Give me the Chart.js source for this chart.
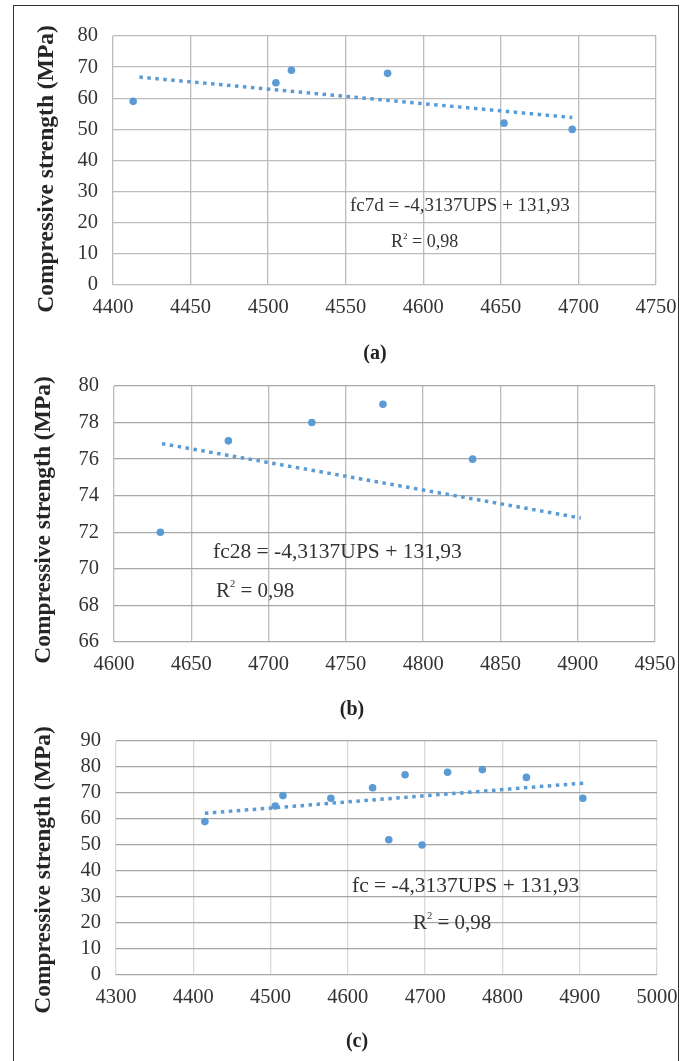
<!DOCTYPE html>
<html>
<head>
<meta charset="utf-8">
<script src="https://cdn.jsdelivr.net/npm/chart.js@4.4.0/dist/chart.umd.min.js"></script>
<style>
  html, body { margin: 0; padding: 0; background: #fff; width: 691px; height: 1061px; overflow: hidden; }
  .frame { position: absolute; left: 13px; top: 5px; width: 666px; height: 1100px; border: 1.5px solid #333; box-sizing: border-box; }
  canvas { position: absolute; left: 0; }
  .txt { position: absolute; font-family: "Liberation Serif", serif; color: #333; white-space: nowrap; line-height: 1; transform: translateY(-50%); }
  .cap { position: absolute; font-family: "Liberation Serif", serif; font-weight: bold; color: #222; font-size: 20px; line-height: 1; transform: translate(-50%, -50%); }
  sup { font-size: 0.5em; vertical-align: 0.9em; line-height: 0; }
</style>
</head>
<body>
<div class="frame"></div>
<canvas id="cA" width="691" height="330" style="top:0px"></canvas>
<canvas id="cB" width="691" height="340" style="top:340px"></canvas>
<canvas id="cC" width="691" height="340" style="top:700px"></canvas>

<div class="txt" style="left:350px; top:204px; font-size:19px;">fc7d = -4,3137UPS + 131,93</div>
<div class="txt" style="left:391px; top:241px; font-size:18px;">R<sup>2</sup> = 0,98</div>
<div class="cap" style="left:375px; top:352px;">(a)</div>

<div class="txt" style="left:213px; top:552px; font-size:21.5px;">fc28 = -4,3137UPS + 131,93</div>
<div class="txt" style="left:216px; top:590px; font-size:21px;">R<sup>2</sup> = 0,98</div>
<div class="cap" style="left:352px; top:708px;">(b)</div>

<div class="txt" style="left:352px; top:886px; font-size:21.5px;">fc = -4,3137UPS + 131,93</div>
<div class="txt" style="left:413px; top:922px; font-size:21px;">R<sup>2</sup> = 0,98</div>
<div class="cap" style="left:357px; top:1040px;">(c)</div>

<script>
// ---- Panel (a): 7-day ----
const upsA = [4413, 4505, 4515, 4577, 4652, 4696];
const fcA  = [59, 65, 69, 68, 52, 50];
const trendUpsA = [4417, 4696];
const trendFcA  = [66.8, 53.8];
const xTicksA = [4400, 4450, 4500, 4550, 4600, 4650, 4700, 4750];
const yTicksA = [0, 10, 20, 30, 40, 50, 60, 70, 80];

// ---- Panel (b): 28-day ----
const upsB = [4630, 4674, 4728, 4774, 4832];
const fcB  = [72, 77, 78, 79, 76];
const trendUpsB = [4631, 4902];
const trendFcB  = [76.85, 72.78];
const xTicksB = [4600, 4650, 4700, 4750, 4800, 4850, 4900, 4950];
const yTicksB = [66, 68, 70, 72, 74, 76, 78, 80];

// ---- Panel (c): all ----
const upsC = [4415, 4506, 4516, 4578, 4632, 4653, 4674, 4696, 4729, 4774, 4831, 4904];
const fcC  = [59, 65, 69, 68, 72, 52, 77, 50, 78, 79, 76, 68];
const trendUpsC = [4415, 4905];
const trendFcC  = [62.2, 73.8];
const xTicksC = [4300, 4400, 4500, 4600, 4700, 4800, 4900, 5000];
const yTicksC = [0, 10, 20, 30, 40, 50, 60, 70, 80, 90];

const yTitle = 'Compressive strength (MPa)';
const blue = '#5b9bd5';
const tickFont = { family: 'Liberation Serif', size: 20.5 };

function pts(xs, ys) { return xs.map((x, i) => ({ x: x, y: ys[i] })); }

const titlePlugin = {
  id: 'ytitle',
  afterDraw(chart, args, opts) {
    const ctx = chart.ctx;
    ctx.save();
    ctx.translate(opts.x, opts.y);
    ctx.rotate(-Math.PI / 2);
    ctx.font = 'bold 23.5px "Liberation Serif"';
    ctx.fillStyle = '#262626';
    ctx.textAlign = 'center';
    ctx.textBaseline = 'middle';
    ctx.fillText(opts.text, 0, 0);
    ctx.restore();
  }
};

function makeChart(id, xs, ys, tx, ty, xTicks, yTicks, box, gridX, gridY, titlePos) {
  new Chart(document.getElementById(id), {
    type: 'scatter',
    data: {
      datasets: [
        { data: pts(xs, ys), backgroundColor: blue, borderColor: blue, pointRadius: 3.8, pointHoverRadius: 3.8, pointBorderWidth: 0, order: 1 },
        { type: 'line', data: pts(tx, ty), borderColor: blue, borderWidth: 3.5, borderDash: [3.5, 4.5], borderCapStyle: 'butt', pointRadius: 0, fill: false, tension: 0, order: 2 }
      ]
    },
    options: {
      responsive: false,
      animation: false,
      events: [],
      layout: { padding: { left: 0, top: box.top, right: 691 - box.right, bottom: 0 } },
      plugins: {
        legend: { display: false },
        tooltip: { enabled: false },
        ytitle: { text: yTitle, x: titlePos[0], y: titlePos[1] }
      },
      scales: {
        x: {
          type: 'linear',
          min: xTicks[0], max: xTicks[xTicks.length - 1],
          afterBuildTicks: (s) => { s.ticks = xTicks.map(v => ({ value: v })); },
          ticks: { font: tickFont, color: '#333', padding: 10, maxRotation: 0, autoSkip: false, callback: (v) => String(v) },
          grid: { color: gridX, lineWidth: 1.3, drawTicks: false },
          border: { display: false },
          afterFit: (s) => { s.height = box.h - box.bottom; }
        },
        y: {
          type: 'linear',
          min: yTicks[0], max: yTicks[yTicks.length - 1],
          afterBuildTicks: (s) => { s.ticks = yTicks.map(v => ({ value: v })); },
          ticks: { font: tickFont, color: '#333', padding: 15, autoSkip: false, callback: (v) => String(v) },
          grid: { color: gridY, lineWidth: 1.3, drawTicks: false },
          border: { display: false },
          afterFit: (s) => { s.width = box.left; }
        }
      }
    },
    plugins: [titlePlugin]
  });
}

makeChart('cA', upsA, fcA, trendUpsA, trendFcA, xTicksA, yTicksA,
  { left: 113, right: 656, top: 36, bottom: 285, h: 330 }, '#bcbcbc', '#bcbcbc', [47, 169]);
makeChart('cB', upsB, fcB, trendUpsB, trendFcB, xTicksB, yTicksB,
  { left: 114, right: 655, top: 46, bottom: 302, h: 340 }, '#bcbcbc', '#a8a8a8', [44, 180]);
makeChart('cC', upsC, fcC, trendUpsC, trendFcC, xTicksC, yTicksC,
  { left: 116, right: 657, top: 41, bottom: 275, h: 340 }, '#d9d9d9', '#a6a6a6', [44, 170]);
</script>
</body>
</html>
